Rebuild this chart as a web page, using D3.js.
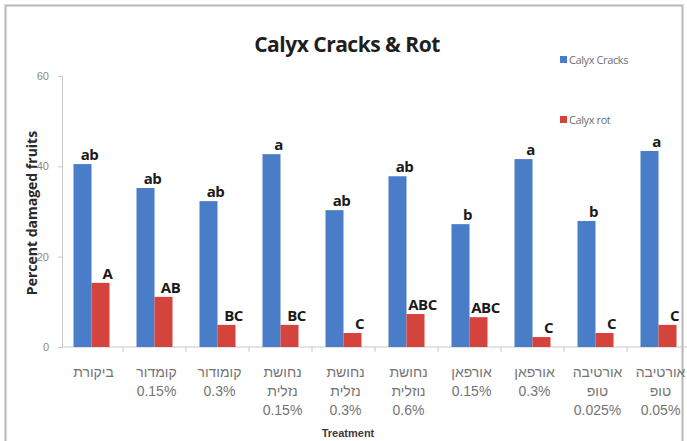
<!DOCTYPE html>
<html>
<head>
<meta charset="utf-8">
<script src="https://cdn.jsdelivr.net/npm/d3@7"></script>
<style>
  body { margin: 0; background: #fff; }
  svg { display: block; }
</style>
</head>
<body>
<script>
// treatments, each label split in lines
var categories = [
  ["ביקורת"],
  ["קומדור", "0.15%"],
  ["קומודור", "0.3%"],
  ["נחושת", "נזלית", "0.15%"],
  ["נחושת", "נזלית", "0.3%"],
  ["נחושת", "נוזלית", "0.6%"],
  ["אורפאן", "0.15%"],
  ["אורפאן", "0.3%"],
  ["אורטיבה", "טופ", "0.025%"],
  ["אורטיבה", "טופ", "0.05%"]
];
var series = ["Calyx Cracks", "Calyx rot"];
var cracks = [40.5, 35.2, 32.3, 42.7, 30.3, 37.8, 27.2, 41.6, 27.9, 43.4];
var rot = [14.2, 11.1, 4.9, 4.9, 3.1, 7.3, 6.6, 2.2, 3.1, 4.9];
var cracksLetters = ["ab", "ab", "ab", "a", "ab", "ab", "b", "a", "b", "a"];
var rotLetters = ["A", "AB", "BC", "BC", "C", "ABC", "ABC", "C", "C", "C"];
var yTicks = [0, 20, 40, 60];

var width = 687, height = 441;
var colors = ["#4a7dc8", "#d4433c"];

var svg = d3.select("body").append("svg")
    .attr("width", width)
    .attr("height", height);

// outer frame (cropped on right / bottom)
svg.append("path")
    .attr("d", "M5.5,441 V5.5 H682.5 V441")
    .attr("fill", "none")
    .attr("stroke", "#b8b8b8")
    .attr("stroke-width", 2);

var idx = d3.range(categories.length);
var x = d3.scaleBand().domain(idx).range([60, 690]);
var xs = d3.scaleBand().domain([0, 1]).range([13.5, 49.5]);
var y = d3.scaleLinear().domain([0, 60]).range([347, 76]);

// y axis
var yAxis = d3.axisLeft(y).tickValues(yTicks).tickSize(4).tickPadding(9);
var gy = svg.append("g").attr("transform", "translate(62,0)").call(yAxis);
gy.select(".domain").attr("stroke", "#c8c8c8");
gy.selectAll(".tick line").attr("stroke", "#c8c8c8");
gy.selectAll(".tick text")
    .attr("fill", "#8a8a8a")
    .style("font", "11px 'Liberation Sans', Arial, sans-serif");

// x axis
var gx = svg.append("g").attr("transform", "translate(0,347)");
gx.append("line")
    .attr("x1", 62).attr("x2", 690)
    .attr("stroke", "#c8c8c8");
gx.selectAll(".xt").data(idx.slice(1)).enter().append("line")
    .attr("x1", function(d) { return x(d); })
    .attr("x2", function(d) { return x(d); })
    .attr("y1", 0).attr("y2", 5)
    .attr("stroke", "#c8c8c8");

// category labels
var lab = svg.append("g").selectAll("text").data(categories).enter().append("text")
    .attr("x", function(d, i) { return x(i) + x.bandwidth() / 2 + 2; })
    .attr("y", 377)
    .attr("text-anchor", "middle")
    .attr("fill", "#747474")
    .style("font", "14px 'Liberation Sans', Arial, sans-serif");
lab.selectAll("tspan").data(function(d) { return d; }).enter().append("tspan")
    .attr("x", function() { return d3.select(this.parentNode).attr("x"); })
    .attr("dy", function(d, j) { return j === 0 ? 0 : 19; })
    .attr("direction", "rtl")
    .attr("unicode-bidi", "plaintext")
    .text(function(d) { return d; });

// bars
var allVals = [cracks, rot];
var allLetters = [cracksLetters, rotLetters];
allVals.forEach(function(vals, s) {
  svg.append("g").selectAll("rect").data(vals).enter().append("rect")
      .attr("x", function(d, i) { return x(i) + xs(s); })
      .attr("y", function(d) { return y(d); })
      .attr("width", xs.bandwidth())
      .attr("height", function(d) { return y(0) - y(d); })
      .attr("fill", colors[s]);

  svg.append("g").selectAll("text").data(vals).enter().append("text")
      .attr("x", function(d, i) { return x(i) + xs(s) + xs.bandwidth() / 2 + 7; })
      .attr("y", function(d) { return y(d) - 4; })
      .attr("text-anchor", "middle")
      .attr("fill", "#1a1a1a")
      .style("font", "bold 15px 'Open Sans', Arial, sans-serif")
      .style("letter-spacing", "-0.5px")
      .text(function(d, i) { return allLetters[s][i]; });
});

// title
svg.append("text")
    .attr("x", 347).attr("y", 52)
    .attr("text-anchor", "middle")
    .attr("fill", "#1e1e1e")
    .style("font", "bold 21px 'Open Sans', Arial, sans-serif")
    .style("letter-spacing", "-0.5px")
    .text("Calyx Cracks & Rot");

// legend
var leg = svg.append("g").selectAll("g").data(series).enter().append("g")
    .attr("transform", function(d, i) { return "translate(560," + (60 + i * 60) + ")"; });
leg.append("rect")
    .attr("x", 0).attr("y", -4)
    .attr("width", 7).attr("height", 7)
    .attr("fill", function(d, i) { return colors[i]; });
leg.append("text")
    .attr("x", 9).attr("y", 4)
    .attr("fill", "#707070")
    .style("font", "11px 'Open Sans', Arial, sans-serif")
    .style("letter-spacing", "-0.4px")
    .text(function(d) { return d; });

// axis titles
svg.append("text")
    .attr("transform", "translate(37,213) rotate(-90)")
    .attr("text-anchor", "middle")
    .attr("fill", "#2a2a2a")
    .style("font", "bold 14px 'Open Sans', Arial, sans-serif")
    .text("Percent damaged fruits");

svg.append("text")
    .attr("x", 348).attr("y", 437)
    .attr("text-anchor", "middle")
    .attr("fill", "#3a3a3a")
    .style("font", "bold 11px 'Liberation Sans', Arial, sans-serif")
    .text("Treatment");
</script>
</body>
</html>
